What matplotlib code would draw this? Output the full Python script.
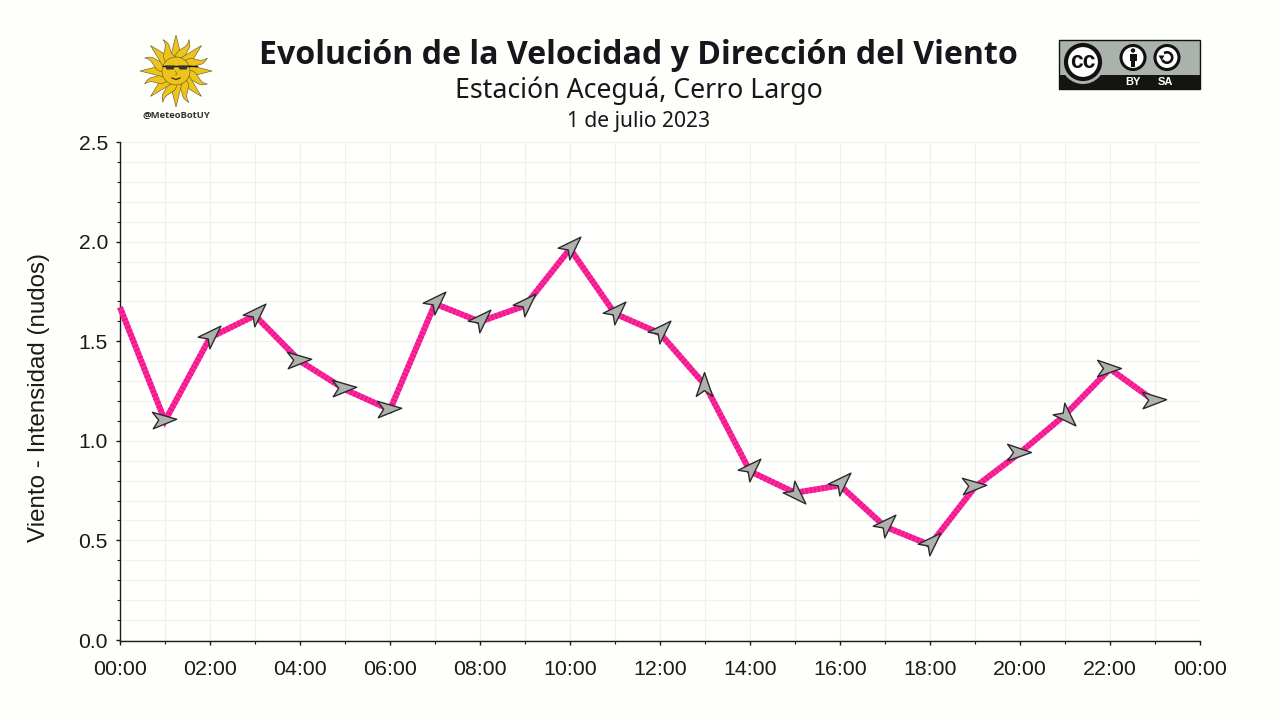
import numpy as np
import matplotlib
matplotlib.use("Agg")
import matplotlib.pyplot as plt
from matplotlib.markers import MarkerStyle
from matplotlib.path import Path
from matplotlib.patches import Polygon, Circle, Rectangle
from matplotlib.transforms import Affine2D
from matplotlib.ticker import MultipleLocator

hours = list(range(24))
speed = [1.67, 1.10, 1.518, 1.629, 1.40, 1.258, 1.156, 1.688, 1.598, 1.678, 1.964, 1.638,
         1.539, 1.28, 0.847, 0.739, 0.776, 0.569, 0.477, 0.768, 0.94, 1.13, 1.361, 1.198]
# arrow heading (degrees counter-clockwise from east); first hour has no arrow
heading = [None, 3, 45, 45, 3, 3, 3, 45, 45, 45, 45, 45,
           45, 90, 45, -45, 45, 45, 45, 3, 0, -45, 0, 2]
tick_hours = list(range(0, 25, 2))
tick_labels = [f"{h % 24:02d}:00" for h in tick_hours]
title = "Evolución de la Velocidad y Dirección del Viento"
subtitle = "Estación Aceguá, Cerro Largo"
date_text = "1 de julio 2023"
ylabel = "Viento - Intensidad (nudos)"

BG = "#fefefa"
INK = "#1a1a1a"
W, H = 1280, 720
fig = plt.figure(figsize=(W / 100, H / 100), dpi=100, facecolor=BG)
L, R, T, B = 119.5, 1200, 142, 641
ax = fig.add_axes([L / W, 1 - B / H, (R - L) / W, (B - T) / H], facecolor="#fffffe")
ax.set_xlim(-0.011, 24)
ax.set_ylim(-0.005, 2.5)
for s in ("top", "right"):
    ax.spines[s].set_visible(False)
for s in ("left", "bottom"):
    ax.spines[s].set_color(INK)
    ax.spines[s].set_linewidth(1.0)

ax.xaxis.set_minor_locator(MultipleLocator(1))
ax.yaxis.set_minor_locator(MultipleLocator(0.1))
ax.set_xticks(tick_hours)
ax.set_xticklabels(tick_labels, family="Liberation Sans", fontsize=15.4, color=INK)
ax.set_yticks([0, 0.5, 1, 1.5, 2, 2.5])
ax.set_yticklabels(["0.0", "0.5", "1.0", "1.5", "2.0", "2.5"], family="Liberation Sans",
                   fontsize=15.2, color=INK)
ax.tick_params(axis="x", which="major", length=3, width=1, color=INK, pad=10.5)
ax.tick_params(axis="y", which="major", length=3, width=1, color=INK, pad=5.3)
ax.tick_params(which="minor", length=2, width=0.8, color=INK)
ax.grid(which="both", color="#f1f1ec", linewidth=0.85)
ax.set_axisbelow(True)
ax.set_ylabel(ylabel, family="Liberation Sans", fontsize=17.4, color=INK, va="center")
ax.yaxis.set_label_coords(-(L - 39) / (R - L), (B - 398) / (B - T))

ax.plot(hours, speed, color="#ff2a9c", lw=4.3, solid_capstyle="butt", solid_joinstyle="miter",
        clip_on=False, zorder=3)
ax.plot(hours, speed, color="#e8108a", lw=4.3, linestyle=(0, (0.34, 0.34)), dash_capstyle="butt",
        clip_on=False, zorder=3.1, alpha=0.7)

# arrow outline, normalised so the largest coordinate is 0.5 of the marker size
ARROW = np.array([[12.0, 0.0], [-12.3, 8.4], [-6.3, 0.0], [-12.3, -8.4], [12.0, 0.0]]) / (2 * 12.3)
ARROW_CODES = [Path.MOVETO, Path.LINETO, Path.LINETO, Path.LINETO, Path.CLOSEPOLY]


def arrow_marker(deg):
    """Rotate the arrow and centre it on its rotated bounding box."""
    rot = Affine2D().rotate_deg(deg)
    pts = rot.transform(ARROW)
    cx, cy = (pts.min(0) + pts.max(0)) / 2
    return MarkerStyle(Path(ARROW, ARROW_CODES), transform=rot.translate(-cx - 0.04, -cy + 0.04))


for h, v, d in zip(hours, speed, heading):
    if d is None:
        continue
    ax.plot([h], [v], marker=arrow_marker(d), ms=17.4, mfc="#afb1ac", mec="#2b2b2e", mew=1.0,
            ls="none", zorder=4, clip_on=False)

# header text
tx = 638.5 / W
fig.text(tx, 1 - 55 / H, title, family="Open Sans", weight="bold", fontsize=23.1, color="#16161d",
         ha="center", va="center")
fig.text(tx, 1 - 91 / H, subtitle, family="Noto Sans", fontsize=19.2, color="#16161d",
         ha="center", va="center")
fig.text(tx, 1 - 122 / H, date_text, family="Noto Sans", fontsize=15.1, color="#16161d",
         ha="center", va="center")

# overlay in pixel coordinates for the two badges
ov = fig.add_axes([0, 0, 1, 1], facecolor="none")
ov.set_xlim(0, W)
ov.set_ylim(H, 0)
ov.axis("off")

# sun badge
cx, cy = 176, 71
SUN = "#eec41a"
SUN_E = "#5a5230"
c = np.array([cx, cy])
for i in range(16):
    a = np.deg2rad(i * 22.5)
    u = np.array([np.sin(a), -np.cos(a)])
    n = np.array([u[1], -u[0]])
    if i % 2 == 0:
        pts = [c + u * 12 + n * 6, c + u * 36, c + u * 12 - n * 6]
    else:
        t = np.linspace(0, 1, 14)
        wav = 1.6 * np.sin(t * 2 * np.pi)
        left = [c + u * (12 + 22 * s) + n * (w + 6 * (1 - s)) for s, w in zip(t, wav)]
        right = [c + u * (12 + 22 * s) + n * (w - 6 * (1 - s)) for s, w in zip(t[::-1], wav[::-1])]
        pts = left + right
    ov.add_patch(Polygon(pts, closed=True, fc=SUN, ec=SUN_E, lw=0.4, zorder=2))
ov.add_patch(Circle((cx, cy), 14, fc=SUN, ec=SUN_E, lw=0.4, zorder=3))
ov.plot([163, 197], [65.5, 65.5], color="#111111", lw=1.0, zorder=5)
for gx in (170, 183):
    ov.add_patch(Polygon([(gx - 5, 65.5), (gx + 5, 65.5), (gx + 3.5, 69.5), (gx - 3.5, 69.5)],
                         closed=True, fc="#333333", ec="none", zorder=5))
ov.plot([172, 176, 180], [78, 79.5, 78], color="#4a3b10", lw=1.0, zorder=5)
ov.plot([175.5, 177, 175.5], [71, 74, 75], color="#8a7018", lw=0.5, zorder=5)
ov.text(176, 115, "@MeteoBotUY", family="Open Sans", weight="bold", fontsize=6.8, color="#333333",
        ha="center", va="center")

# licence badge
ov.add_patch(Rectangle((1059, 40), 140.5, 49, fc="#aab2ab", ec="none", zorder=2))
ov.add_patch(Rectangle((1059, 75), 140.5, 14, fc="#141512", ec="none", zorder=3))
ov.add_patch(Circle((1083, 62), 22, fc="#aab2ab", ec="none", zorder=3.5))
ov.add_patch(Rectangle((1059, 85), 50, 5, fc="#141512", ec="none", zorder=3.6))
ov.add_patch(Rectangle((1059, 40), 140.5, 49, fc="none", ec="#111111", lw=1, zorder=3.7))
ov.add_patch(Circle((1083, 62), 17, fc="#ffffff", ec="#111111", lw=3.0, zorder=4))
ov.text(1083, 61.5, "cc", family="Liberation Sans", weight="bold", fontsize=16.5, color="#111111",
        ha="center", va="center", zorder=5)
for ix in (1133, 1167):
    ov.add_patch(Circle((ix, 57.5), 12, fc="#ffffff", ec="#111111", lw=2.2, zorder=4))
ov.add_patch(Circle((1133, 50.5), 2.2, fc="#111111", ec="none", zorder=5))
ov.add_patch(Rectangle((1129.5, 53.5), 7, 7, fc="#111111", ec="none", zorder=5))
ov.add_patch(Rectangle((1131, 60), 4, 7, fc="#111111", ec="none", zorder=5))
theta = np.linspace(np.deg2rad(110), np.deg2rad(-140), 40)
ov.plot(1167 + 5.2 * np.cos(theta), 57.5 - 5.2 * np.sin(theta), color="#111111", lw=1.9, zorder=5)
ov.add_patch(Polygon([(1158.5, 55.5), (1164.5, 55.5), (1161.5, 60.5)], closed=True, fc="#111111",
                     ec="none", zorder=5))
ov.text(1132.5, 82, "BY", family="Liberation Sans", weight="bold", fontsize=8, color="#ffffff",
        ha="center", va="center", zorder=5)
ov.text(1165.5, 82, "SA", family="Liberation Sans", weight="bold", fontsize=8, color="#ffffff",
        ha="center", va="center", zorder=5)

fig.savefig("out.png", dpi=100, facecolor=BG)
